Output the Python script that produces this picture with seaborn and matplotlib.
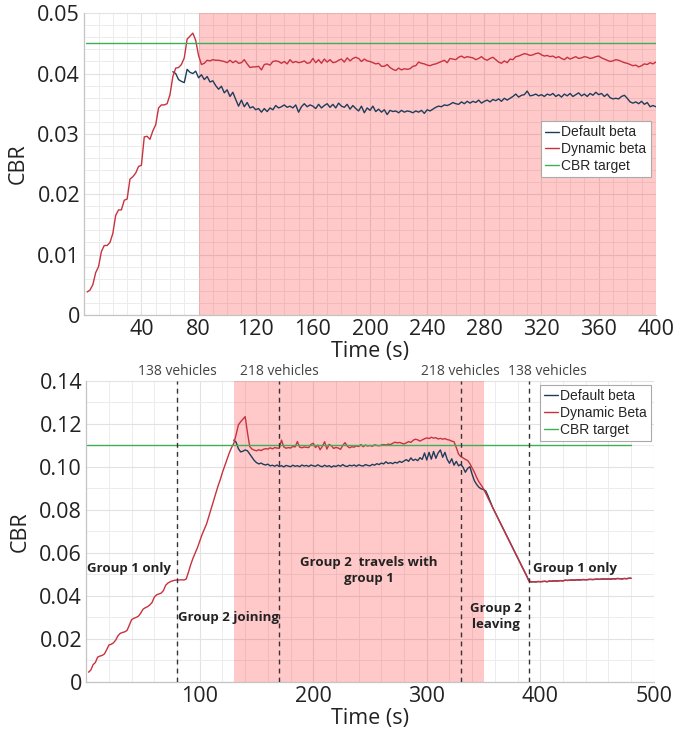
import numpy as np
import pandas as pd
import matplotlib
matplotlib.use("Agg")
import matplotlib.pyplot as plt
import seaborn as sns
from matplotlib.ticker import MultipleLocator, FuncFormatter

# ---------------- data (CBR values written in 1/1000) ----------------
# top panel: sampled every 2 s
top_dynamic_start = 2
top_dynamic = [
    3.8, 4.1, 5.0, 7.0, 8.0, 10.5, 11.5, 11.5, 12.0, 13.5,
    16.5, 17.4, 17.4, 19.0, 19.2, 22.5, 22.9, 23.5, 24.6, 24.8,
    29.5, 29.6, 29.1, 30.5, 31.5, 34.3, 34.8, 34.8, 35.0, 36.5,
    39.5, 40.9, 41.0, 41.5, 42.6, 45.7, 46.2, 46.7, 45.5, 43.0,
    41.5, 41.7, 42.2, 42.1, 42.3, 42.2, 42.2, 42.1, 42.0, 41.8,
    42.2, 41.8, 42.1, 41.7, 41.8, 42.3, 41.6, 41.0, 41.1, 41.1,
    41.2, 40.6, 41.5, 41.6, 41.4, 42.0, 42.1, 42.0, 41.7, 42.0,
    41.6, 42.3, 41.8, 42.0, 41.8, 41.9, 42.1, 41.7, 41.8, 42.5,
    41.8, 42.3, 41.7, 42.4, 41.9, 42.3, 41.8, 41.9, 42.2, 42.4,
    41.9, 42.6, 42.1, 42.5, 42.7, 42.5, 42.0, 42.4, 42.1, 42.0,
    41.8, 41.6, 41.7, 41.2, 41.2, 41.5, 41.0, 40.7, 40.5, 40.9,
    40.6, 40.8, 40.7, 40.8, 41.2, 41.3, 41.9, 41.7, 41.6, 41.4,
    41.3, 41.5, 41.6, 41.8, 42.0, 42.2, 41.8, 42.5, 42.4, 42.3,
    42.7, 42.9, 42.6, 42.8, 42.7, 42.6, 42.3, 42.5, 42.8, 42.4,
    42.2, 42.5, 42.7, 42.3, 41.9, 41.7, 42.1, 41.8, 42.4, 42.3,
    42.8, 42.9, 43.1, 43.3, 43.2, 43.0, 43.1, 43.3, 43.4, 43.1,
    42.9, 43.0, 42.8, 42.9, 42.6, 42.8, 42.5, 42.3, 42.7, 42.4,
    42.6, 42.8, 42.5, 42.6, 42.8, 42.7, 42.5, 42.6, 42.8, 42.9,
    42.6, 42.4, 42.2, 42.0, 42.1, 42.3, 42.2, 42.0, 41.8, 41.7,
    41.5, 41.3, 41.4, 41.1, 41.3, 41.6, 41.5, 41.8, 41.6, 41.9,
]
top_default_start = 62
top_default = [
    40.3, 40.0, 39.0, 38.7, 38.5, 40.7, 40.2, 40.0, 40.4, 39.3,
    39.8, 39.0, 39.5, 38.6, 38.8, 38.0, 37.4, 37.9, 36.8, 37.3,
    36.2, 36.9, 35.7, 34.6, 35.6, 34.5, 35.2, 34.3, 34.5, 34.0,
    34.2, 33.6, 34.2, 33.7, 34.3, 34.0, 34.7, 34.3, 34.5, 34.8,
    34.4, 34.6, 34.3, 34.8, 33.6, 34.5, 35.0, 34.5, 34.8, 34.6,
    34.2, 34.9, 34.3, 34.7, 35.0, 34.4, 34.9, 34.3, 35.1, 34.6,
    34.4, 34.9, 34.1, 34.7, 34.2, 33.8, 34.6, 33.5, 34.3, 33.9,
    34.6, 33.7, 34.1, 33.6, 34.0, 33.2, 33.9, 33.7, 33.8, 33.5,
    33.9, 33.6, 33.8, 33.7, 33.5, 33.8, 33.6, 33.9, 33.4, 34.0,
    33.8, 34.1, 34.4, 34.6, 34.5, 34.8, 34.7, 34.9, 35.2, 35.0,
    34.9, 35.3, 35.0, 35.4, 35.1, 35.4, 35.2, 35.6, 35.1, 35.4,
    35.6, 35.3, 35.7, 35.5, 35.8, 35.4, 35.9, 35.6, 35.9, 36.2,
    36.6, 36.1, 36.4, 36.5, 37.1, 36.3, 36.4, 36.6, 36.3, 36.5,
    36.2, 36.6, 36.4, 36.7, 36.2, 36.5, 36.1, 36.6, 36.3, 36.7,
    36.2, 36.5, 36.8, 36.3, 36.6, 36.2, 36.7, 36.4, 36.9, 36.5,
    36.7, 36.2, 36.6, 36.0, 35.8, 35.9, 35.8, 36.2, 36.4, 35.9,
    35.3, 35.1, 35.3, 35.0, 35.4, 34.9, 35.2, 34.5, 34.7, 34.5,
]
top_target = 45.0
top_target_span = [1, 400]
top_shade = [80, 400]

# bottom panel: sampled every 2 s
bot_dynamic_start = 2
bot_dynamic = [
    4.5, 5.5, 8.0, 9.0, 11.5, 12.0, 12.3, 13.0, 15.0, 17.2,
    17.5, 18.2, 19.5, 21.5, 22.6, 23.0, 23.3, 24.0, 26.5, 29.0,
    29.6, 30.0, 30.6, 32.0, 33.8, 34.5, 35.0, 35.8, 37.0, 39.5,
    40.5, 40.9, 41.3, 42.5, 45.0, 46.0, 46.6, 47.0, 47.3, 47.4,
    47.4, 47.5, 47.4, 47.8, 51.0, 54.5, 57.5, 60.0, 62.5, 65.5,
    68.5, 71.0, 73.5, 77.0, 80.5, 84.0, 87.5, 91.0, 94.0, 97.5,
    100.5, 103.5, 106.5, 109.0, 111.0, 115.0, 119.5, 121.0, 122.2, 123.4,
    116.0, 109.5, 108.3, 107.8, 107.5, 108.0, 107.6, 108.2, 108.5, 108.3,
    108.9, 108.4, 109.0, 108.8, 108.6, 112.5, 109.3, 108.7, 109.0, 108.8,
    109.5, 109.3, 111.8, 109.2, 108.9, 109.3, 109.1, 109.0, 110.5, 111.0,
    109.0, 110.2, 108.0, 109.6, 111.7, 108.3, 110.5, 109.8, 108.6, 109.1,
    108.8, 108.2, 110.0, 111.3, 109.6, 108.9, 109.4, 109.2, 109.8, 109.5,
    110.4, 109.4, 110.2, 109.7, 110.0, 109.6, 110.3, 110.0, 109.8, 110.2,
    110.4, 110.2, 110.6, 110.4, 111.0, 111.5, 111.2, 111.4, 111.0, 110.7,
    111.2, 111.8, 111.4, 112.4, 112.9, 112.6, 112.0, 112.6, 113.1, 113.5,
    113.2, 113.8, 113.4, 113.6, 113.0, 113.3, 112.9, 113.2, 112.7, 112.5,
    112.0, 111.7, 109.0, 106.0, 104.8, 104.2, 103.5, 103.0, 101.5, 99.5,
    97.5, 95.0, 93.0, 91.5, 89.8, 87.6, 85.4, 83.3, 81.2, 79.0,
    76.9, 74.8, 72.7, 70.5, 68.4, 66.3, 64.2, 62.0, 59.9, 57.8,
    55.7, 53.5, 51.4, 49.3, 47.0, 46.5, 46.6, 46.5, 46.7, 46.6,
    46.7, 46.8, 46.6, 46.9, 46.8, 47.0, 46.9, 47.0, 47.1, 47.0,
    47.3, 47.2, 47.3, 47.4, 47.3, 47.5, 47.4, 47.5, 47.6, 47.5,
    47.6, 47.7, 47.6, 47.7, 47.8, 47.7, 47.8, 47.9, 47.8, 47.9,
    47.8, 48.0, 47.9, 48.1, 48.0, 47.9, 48.1, 48.0, 48.2, 48.2,
]
# default beta only separates from dynamic beta between 130 s and 362 s
bot_default_start = 130
bot_default_own = [
    112.5, 111.5, 108.5, 107.0, 107.3, 107.9, 107.5, 106.0, 104.5, 103.0,
    102.0, 101.4, 101.8, 101.2, 100.9, 101.3, 100.5, 100.8, 100.3, 100.9,
    100.2, 100.6, 100.0, 100.7, 100.4, 100.1, 100.8, 100.3, 100.6, 100.1,
    100.9, 100.4, 100.7, 100.2, 100.9, 100.5, 100.3, 101.0, 100.4, 100.1,
    100.8, 100.2, 100.6, 99.9, 100.5, 100.2, 100.8, 100.3, 101.1, 100.4,
    100.2, 100.8, 100.5, 100.9, 100.3, 101.0, 100.6, 100.4, 101.1, 100.7,
    100.5, 101.2, 100.8, 101.5, 101.1, 101.8, 101.4, 102.4, 101.6, 102.0,
    101.5, 102.2, 101.8, 102.6, 102.1, 102.8, 103.4, 102.6, 104.2, 103.0,
    103.6, 102.9, 104.3, 103.5, 106.5, 103.2, 106.8, 103.6, 107.2, 104.0,
    106.5, 107.9, 104.5, 106.8, 103.5, 101.7, 103.8, 100.8, 102.6, 100.5,
    101.2, 99.8, 97.5, 99.3, 100.1, 96.5, 93.5, 91.8, 90.5, 89.8,
    89.5, 88.8, 86.5, 83.8, 81.2, 79.0, 76.9,
]
bot_target = 110.0
bot_target_span = [1, 480]
bot_shade = [130, 350]
bot_events = [80, 170, 330, 390]
bot_event_labels = ["138 vehicles", "218 vehicles", "218 vehicles", "138 vehicles"]
bot_event_label_x = [80, 170, 330, 406]

STEP = 2
RED = "#c8323f"
BLUE = "#1e3d5c"
GREEN = "#3daf55"


def build_frame():
    t_dyn = top_dynamic_start + STEP * np.arange(len(top_dynamic))
    t_def = top_default_start + STEP * np.arange(len(top_default))
    top = pd.concat([
        pd.DataFrame({"time": t_def, "cbr": np.array(top_default) / 1000, "series": "Default beta"}),
        pd.DataFrame({"time": t_dyn, "cbr": np.array(top_dynamic) / 1000, "series": "Dynamic beta"}),
    ])
    b_dyn_t = bot_dynamic_start + STEP * np.arange(len(bot_dynamic))
    own_t = bot_default_start + STEP * np.arange(len(bot_default_own))
    rest = b_dyn_t > own_t[-1]
    b_def_t = np.concatenate([own_t, b_dyn_t[rest]])
    b_def_v = np.concatenate([bot_default_own, np.array(bot_dynamic)[rest]])
    bot = pd.concat([
        pd.DataFrame({"time": b_def_t, "cbr": b_def_v / 1000, "series": "Default beta"}),
        pd.DataFrame({"time": b_dyn_t, "cbr": np.array(bot_dynamic) / 1000, "series": "Dynamic Beta"}),
    ])
    return top, bot


def style_axis(ax, xmax, xmajor, xminor, ymax, ymajor, yminor):
    ax.set_xlim(0, xmax)
    ax.set_ylim(0, ymax)
    ax.set_xticks(np.arange(xmajor, xmax + 1, xmajor))
    ax.set_yticks(np.round(np.arange(0, ymax + 1e-9, ymajor), 3))
    ax.xaxis.set_minor_locator(MultipleLocator(xminor))
    ax.yaxis.set_minor_locator(MultipleLocator(yminor))
    ax.yaxis.set_major_formatter(FuncFormatter(lambda v, p: "0" if abs(v) < 1e-12 else f"{v:.2f}"))
    ax.set_axisbelow(True)
    ax.grid(which="major", color="#e2e2e2", linewidth=0.8)
    ax.grid(which="minor", color="#ececec", linewidth=0.7)
    for s in ["top", "right"]:
        ax.spines[s].set_visible(False)
    for s in ["left", "bottom"]:
        ax.spines[s].set_color("#c4c4c4")
        ax.spines[s].set_linewidth(0.9)
    ax.tick_params(axis="both", which="major", direction="in", length=4, color="#b5b5b5",
                   labelsize=15.5, labelcolor="#222222", pad=3)
    ax.tick_params(axis="both", which="minor", length=0)
    for lab in ax.get_xticklabels() + ax.get_yticklabels():
        lab.set_fontfamily("Open Sans")
    ax.set_xlabel("Time (s)", fontsize=15.5, family="Open Sans", color="#222222", labelpad=1)
    ax.set_ylabel("CBR", fontsize=15.5, family="Open Sans", color="#222222", labelpad=6)


def add_legend(ax, anchor):
    leg = ax.legend(loc="upper right", bbox_to_anchor=anchor, borderaxespad=0,
                    prop={"family": "Liberation Sans", "size": 10},
                    handlelength=1.0, handletextpad=0.15, labelspacing=0.2,
                    borderpad=0.3, fancybox=False, framealpha=1, edgecolor="#aaaaaa")
    leg.get_frame().set_linewidth(0.8)


sns.set_theme(style="whitegrid")
plt.rcParams["font.family"] = ["Open Sans", "DejaVu Sans"]

top_df, bot_df = build_frame()
fig = plt.figure(figsize=(6.74, 7.34), dpi=100)
ax1 = fig.add_axes([0.125, 0.571, 0.848, 0.411])
ax2 = fig.add_axes([0.128, 0.071, 0.842, 0.410])

# ---- top panel ----
ax1.axvspan(*top_shade, color="#ff0000", alpha=0.21, linewidth=0, zorder=1)
sns.lineplot(data=top_df, x="time", y="cbr", hue="series", palette=[BLUE, RED],
             linewidth=1.0, ax=ax1, zorder=3)
ax1.plot(top_target_span, [top_target / 1000] * 2, color=GREEN, linewidth=1.0,
         label="CBR target", zorder=3)
style_axis(ax1, 400, 40, 10, 0.05, 0.01, 0.002)
add_legend(ax1, (0.991, 0.642))

# ---- bottom panel ----
ax2.axvspan(*bot_shade, color="#ff0000", alpha=0.21, linewidth=0, zorder=1)
sns.lineplot(data=bot_df, x="time", y="cbr", hue="series", palette=[BLUE, RED],
             linewidth=1.0, ax=ax2, zorder=3)
ax2.plot(bot_target_span, [bot_target / 1000] * 2, color=GREEN, linewidth=1.0,
         label="CBR target", zorder=3)
for xe in bot_events:
    ax2.axvline(xe, color="#333333", linestyle=(0, (3.5, 3)), linewidth=1.0, zorder=4)
for lx, txt in zip(bot_event_label_x, bot_event_labels):
    ax2.text(lx, 1.008, txt, transform=ax2.get_xaxis_transform(), ha="center", va="bottom",
             fontsize=10, family="Open Sans", color="#444444")
style_axis(ax2, 500, 100, 20, 0.14, 0.02, 0.01)
add_legend(ax2, (0.995, 0.987))

bold = dict(fontsize=9.5, family="Open Sans", fontweight="bold", color="#222222", zorder=5)
ax2.text(1, 0.0526, "Group 1 only", ha="left", va="center", **bold)
ax2.text(80.5, 0.030, "Group 2 joining", ha="left", va="center", **bold)
ax2.text(249, 0.0516, "Group 2  travels with\ngroup 1", ha="center", va="center",
         linespacing=1.3, **bold)
ax2.text(361, 0.0305, "Group 2\nleaving", ha="center", va="center", linespacing=1.3, **bold)
ax2.text(394, 0.0526, "Group 1 only", ha="left", va="center", **bold)

fig.savefig("out.png", dpi=100)
